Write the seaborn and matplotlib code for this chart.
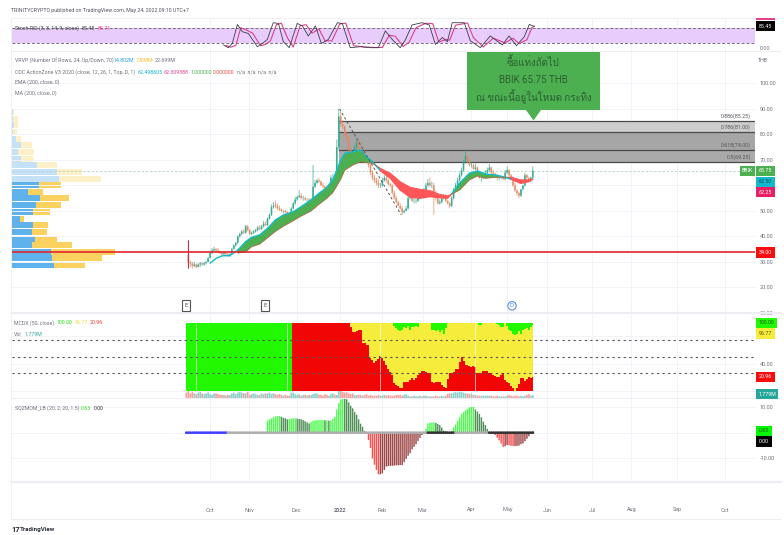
import numpy as np
import matplotlib
matplotlib.use('Agg')
import matplotlib.pyplot as plt
import matplotlib.font_manager as fm
from matplotlib.ft2font import FT2Font
from matplotlib.patches import Rectangle, Polygon, Circle
import seaborn as sns

# --- price bars (index = bar number, first slot empty) ---
nan = float('nan')
closes = [nan,
    30,29.5,28.5,29,28,29,29.5,29,29.5,30, 31.5,33.5,34.5,35,34.5,34,33.5,33,33.5,33,
    32.5,33,35,36.5,37.5,40,41,42,41.5,44, 42.5,41,41.5,42,42.5,43.5,43,44,45,44.5,
    47,48.5,51.5,52,52,51,50.5,50,50,49.5, 49,48.5,51,53,54.5,55.5,56,55,55,54.5,
    54.5,54,54.5,59.5,61,62,61.5,60,59.5,59, 58.5,60,63,63,62.5,75,87,84,83,80,
    78,74,72,71,75,77,74,72,73,71, 70,68,65,63,62,61,60,60,62,63,
    62,60.5,60,57,55,53.5,52,51,49.5,50, 51,55,56,54,54,54,55,56,55.5,58,
    60,61,60,60,57,55,53,53.5,55,55.5, 54,53,52,55,58,60,62,64,66,69,
    71.5,70,68,68,66.5,67,65,63,63,64, 65,66,67,65,64.5,64,63,63,63,62.5,
    65,66,64,63,60,58,57,56,58.5,60, 64,63,62,63,65.75]
opens = [nan,
    33,30,29.5,28.5,29,28,29,29.5,29,29.5, 30,31.5,33.5,34.5,35,34.5,34,33.5,33,33.5,
    33,32.5,33,35,36.5,37.5,40,41,42,41.5, 44,42.5,41,41.5,42,42.5,43.5,43,44,45,
    44.5,47,48.5,51.5,52.5,52,51,50.5,50,50, 49.5,49,48.5,51,53,54.5,55.5,56,55,55,
    54.5,54.5,54,54.5,59.5,61,62,61.5,60,59.5, 59,58.5,60,63,63,63,75,87,84,83,
    80,78,74,72,71,75,77,74,72,73, 71,70,68,65,63,62,61,60,60,62,
    63,62,60.5,60,57,55,53.5,52,51,49.5, 50,51,55,56,54,54,54,55,56,55.5,
    58,60,61,60,60,57,55,53,53.5,55, 55.5,54,53,52,55,58,60,62,64,66,
    69,71.5,70,68,68,66.5,67,65,63,63, 64,65,66,67,65,64.5,64,63,63,63,
    62.5,65,66,64,63,60,58,57,56,58.5, 60,64,63,62,63]
highs = [nan,
    38.5,30.5,30,30,29.5,29.5,30,30,30,30.5, 32,34.5,35.5,36,35.5,35.5,34.5,34,34,34,
    33.5,33.5,35.5,37,38,40.5,41.5,42.5,43,44.5, 44.5,43,42,42.5,43,44,44.5,44.5,46,46,
    47.5,49,52.5,53.5,54,53,52,51,50.5,50.5, 50,49.5,51.5,53.5,55.5,56,58,57,56,55.5,
    55,55,55,68,62,62.5,63,62,61,60, 60,60.5,64,64.5,64,78,90,89,85.5,83.5,
    81,79,75,73,76,78,78,75,74,74, 72,71,68.5,66,64,63,62.5,61,63,64,
    64,62.5,61,60.5,58,56,54,53,52,50.5, 52,56,57.5,56.5,55,55,56,57,57,59,
    61,62.5,63,61.5,61,58,56,54.5,55,56.5, 56.5,54.5,53.5,56,59,61,63,65,67,70,
    73.6,72,70.5,69,68.5,68.5,67.5,65.5,64,65, 66,67,68.5,67.5,66,65,64.5,64,64,63.5,
    66,67.5,66.5,64.5,63.5,61,58.5,57.5,58.5,60, 65,64.5,63.5,63.5,67.5]
lows = [nan,
    27.5,28,27.5,28,27.5,28,28,28.5,28.5,29, 30,31.5,33,34,34,33.5,33,32.5,32.5,32.5,
    32,32,33,35,36,37,39.5,40.5,41,41, 42,40.5,40.5,41,41.5,42,42.5,42.5,43.5,44,
    44,46.5,48,51,51,50.5,50,49.5,49,49, 48.5,48,48,50.5,52.5,54,55,54.5,54,54,
    53.5,53,53.5,54,59,60.5,61,60,59,58.5, 58,58,59.5,62,62,63,74,83,82,79,
    77,73,71,69,70,74,73,71,71,70, 69,67,64,62,61,60,59,59,59.5,61.5,
    61,60,59.5,56.5,54.5,53,52,50.5,48.5,49, 50,50.5,54.5,53.5,53,53,53.5,54.5,55,55,
    57.5,59.5,59.5,59,48.5,54,52.5,52.5,53,54.5, 53.5,52.5,51,51.5,54.5,57.5,59.5,61.5,63.5,65.5,
    68.5,69,67.5,67,66,66,64.5,62.5,61.5,62.5, 63.5,64.5,65.5,64.5,64,63,62,62,62.5,62,
    62,64.5,63.5,62.5,59.5,57.5,56,55,55.5,58, 59.5,62.5,61.5,61.5,62.5]

# --- CDC action zone ---
fast_x = [12,15,18,22,26,30,33,37,41,45,49,54,58,63,67,71,74,78,80,84,88,91,94,98,103,108,113,118,123,128,132,134,138,143,147,151,156,161,164,169,173,175]
fast_vals = [29.5,31.4,32.4,32.5,34.7,38,39.7,40.6,43.2,46.5,48.4,49.7,51.7,54.3,56.9,59.3,62.2,70,72.6,73.2,73.9,71.3,69.3,65.8,62.8,58.2,55.4,55,55.6,55.2,55,56.7,60.9,64.8,65.7,64.5,64.1,63.2,62.4,60.8,61.5,62.5]
slow_vals = [33.5,34,36,37,39.5,42,44,46.2,48,50,52.6,55,57.2,62.5,66,68,69.3,69,68.7,66.7,64.8,61.5,59.3,58.5,58,56.5,55.9,56.6,58.2,62.2,63.7,62.8,63.2,63.2,63.2,62.2,62.2,62.3]

# --- VRVP rows ---
row_price = [88.8,86.2,83.6,81.0,78.4,75.8,73.1,70.5,67.9,65.3,62.7,60.1,57.5,54.9,52.3,49.7,47.0,44.4,41.8,39.2,36.6,34.0,31.4,28.8]
row_up = [6,4,8,6,14,28,19,28,77,138,142,83,49,87,74,65,26,66,62,70,62,119,123,128]
row_down = [3,17,13,10,14,35,48,39,60,75,127,66,47,86,75,50,12,43,45,67,120,192,148,94]

# --- Fibonacci levels ---
fib_levels = [85.25,81.0,74.0,69.25]
fib_names = ['0.886(85.25)','0.786(81.00)','0.618(74.00)','0.5(69.25)']
fib_fills = ['#cdcdcd','#a6a6a6','#aaaaaa']
trend_x = [77.4,108.5]
trend_y = [90,48.5]
last_price = 65.75
support = 34

# --- Stoch RSI ---
k_x = [18.7,21.2,23.2,25.8,28.3,31.3,35.9,38.4,40.9,43.9,46.5,49,52,56,58.6,61.6,65.2,68.2,71.7,76.3,78.8,82.8,87.9,92.9,97,100.5,104,108,110.6,114,119,122.7,125.8,129.3,131.8,134.3,140.4,143.4,148.5,153.5,159.6,163,166.7,170.7,173.2,175.8]
k_vals = [11,0,17,93,64,57,4,17,33,100,97,24,0,97,87,47,87,17,33,100,96,0,4,0,0,67,33,0,31,91,100,91,13,41,24,100,100,28,0,47,11,47,8,44,93,85]
d_x = [20,22.5,25,27.5,30,33.5,37.5,40,42.5,45.5,48,51,54,57.5,60.5,63.5,67,70,73.5,77.5,80.5,84.5,90,95,99,102.5,105.5,109.5,112.5,116,121,124.5,127.5,131,133,136,142,145,150,155,161,165,168,172,174.5,175.8]
d_vals = [9,2,9,80,72,58,8,13,28,92,98,40,3,88,92,58,75,28,27,95,98,8,3,1,1,50,46,5,22,80,98,96,22,33,30,90,99,40,3,38,19,38,16,32,80,86.7]
stoch_levels = [80,20]

# --- MCDX ---
mcdx_red = [0,0,0,0,0,0,0,0,0,0, 0,0,0,0,0,0,0,0,0,0, 0,0,0,0,0,0,0,0,0,0, 0,0,0,0,0,0,0,0,0,0,
    0,0,0,0,0,0,0,0,0,0, 0,0,0,0,100,100,100,100,100,100, 100,100,100,100,100,100,100,100,100,100,
    100,100,100,100,100,100,100,100,100,100, 100,100,100,94,86,86,88,89,89,70,
    70,67,67,48,45,41,44,47,52,48, 44,38,33,28,24,12,9,7,5,5, 14,13,14,17,19,17,19,23,27,30,
    30,28,27,26,14,12,13,14,14,9, 6,5,18,26,27,28,33,33,42,50, 44,38,38,37,36,37,36,26,26,26,
    29,30,29,27,26,24,22,21,21,24, 26,17,13,12,8,5,1,5,10,19, 19,15,18,21,20,20.96]
mcdx_yellow = [0,0,0,0,0,0,0,0,0,0, 0,0,0,0,0,0,0,0,0,0,
    0,0,0,0,0,0,0,0,0,0, 0,0,0,0,0,0,0,0,0,0,
    0,0,0,0,0,0,0,0,0,0, 0,0,0,0,100,100,100,100,100,100,
    100,100,100,100,100,100,100,100,100,100, 100,100,100,100,100,100,100,100,100,100,
    100,100,100,100,100,100,100,100,100,100, 100,100,100,100,100,100,100,100,100,100,
    100,100,100,100,100,95,92,90,88,90, 94,92,95,90,94,93,95,94,100,100,
    100,100,100,100,89,90,88,90,86,90, 84,92,100,100,100,100,100,100,100,100,
    100,100,100,100,100,100,100,100,96,96, 100,100,100,100,100,100,100,98,96,94,
    93,100,95,90,88,84,82,84,88,84, 90,91,92,89,93,96.77]
mcdx_gaps = [5,51,98,146]
mcdx_levels = [75,50,26]
volumes = [3.5,4.5,3,4,3,2.5,3.5,4,3,2.5,3,3.5,2.5,2,3,3,2.5,2,2,2,
    1.5,2,2,3,3.5,2.5,3.5,4,3.5,3,3,4,2,2.5,3,2.5,2,2,3,2.5,
    3,3,3.5,2.5,3,2.5,2,2.5,2,1.5,2,1.5,1.5,3.5,3.5,2.5,2,2.5,1.5,2,
    2,1.5,2,2,2.5,3,3,2,2,1.5,2.5,2,1.5,2.5,3,2,2,4.5,4.5,4,
    3.5,3.5,3,2.5,3,2,2,2,2,1.5,2,2.5,1.5,2,1.5,1.5,1.5,2,1.5,1.5,
    2,1.5,2,1.5,1.5,1.5,2,2,2,1.5,2,2.5,1.5,1,1,1.5,1,1,1.5,1,
    1.5,1.5,1,1,1,1,1.5,1,1,1.5,1,1.5,2.5,3,3,3.5,4,3.5,4,4,
    3.5,3,3,2.5,3,2,2,1.5,1.5,1.5,1.5,1.5,1.5,1.5,1.5,1,1,1.5,1,1,
    1,1,1.5,2,1.5,1,1.5,1.5,1,1.5,1,1.5,2,2.5,1.5,1.78]

# --- squeeze momentum, from bar 41 ---
squeeze_vals = [4.7,5.2,5.6,6.0,6.3,6.5,6.5,6.2,5.8,5.6, 5.2,5.3,5.5,5.6,5.6,5.5,5.3,5.2,4.9,4.5,
    4.0,3.6,4.2,4.7,4.8,4.9,4.9,4.9,4.9,4.8, 4.8,4.7,4.7,5.4,6.2,9,11.5,13,13.3,13.2,
    13,11.8,10.5,9.5,8,7,5.2,3.5,2.3,0.7, -0.3,-2.9,-6,-10,-12.5,-14.5,-16.2,-16.2,-15.8,-14.5,
    -13.2,-13,-12.9,-12.9,-12.8,-12.7,-12.7,-12.6,-12.6,-11.5, -10.2,-9,-8,-6.5,-5.5,-4.5,-3.2,-2,-0.9,-0.1,
    1.5,3.6,3.9,4,4,3.8,3.4,3,2,0.8, 0.6,0.3,0.1,0.6,2,3.2,4.5,6,7.2,8,
    8.8,9.3,9.8,10,10,9,8.2,7.3,6,4.3, 3,1.5,0.4,0,-0.5,-0.9,-2,-3,-4.2,-5.5,
    -5.3,-4.8,-4.9,-5.1,-5.2,-5.2,-5.2,-5,-4.5,-4.2, -3.3,-2.4,-1.4,-0.3,0.63]
squeeze_first = 41

# --- axis labels ---
time_pos = [11.7,31.9,55.7,77.4,98.6,119.3,143.8,162.2,182.4,205.1,224.8,248,271.8]
time_labels = ['Oct','Nov','Dec','2022','Feb','Mar','Apr','May','Jun','Jul','Aug','Sep','Oct']
price_ticks = [10,20,30,40,50,60,70,80,90,100]

GRID = '#f1f3f8'
GRAY = '#6f727c'
UP = '#2fa68f'
DOWN = '#e5865c'
SMALL = 3.8

sns.set_theme(style='white')
thai = [f.name for f in fm.fontManager.ttflist if 0x0E0B in FT2Font(f.fname).get_charmap()]
plt.rcParams['font.family'] = ['Roboto', 'DejaVu Sans'] + thai[:1]
plt.rcParams['font.size'] = SMALL

W, H = 784, 535
fig = plt.figure(figsize=(W / 100, H / 100), dpi=100, facecolor='white')

def pane(top, bottom, **kw):
    ax = fig.add_axes([11.5 / W, 1 - bottom / H, (755 - 11.5) / W, (bottom - top) / H], **kw)
    ax.set_xlim(-88.3, 287.2)
    ax.patch.set_visible(False)
    sns.despine(ax=ax, left=True, bottom=True, right=True, top=True)
    ax.set_xticks(time_pos)
    ax.set_xticklabels([])
    ax.yaxis.tick_right()
    ax.tick_params(length=0, pad=3.5, labelsize=SMALL + 0.2, labelcolor=GRAY)
    ax.grid(True, color=GRID, lw=0.7)
    ax.set_axisbelow(True)
    return ax

def yticks(ax, ticks, hidden=()):
    ax.set_yticks(ticks)
    ax.set_yticklabels(['' if t in hidden else '%.2f' % t for t in ticks])

# stoch rsi
ax_s = pane(18, 51)
ax_s.set_ylim(-13.2, 118.8)
yticks(ax_s, [0])
ax_s.grid(axis='y', visible=False)
ax_s.axhspan(stoch_levels[1], stoch_levels[0], color='#e8ccfb', lw=0, zorder=1)
for lv in stoch_levels:
    ax_s.axhline(lv, color='#77707f', lw=0.7, ls=(0, (3, 2)), zorder=2)
sns.lineplot(x=d_x, y=d_vals, ax=ax_s, color='#d8418f', lw=0.8, zorder=3)
sns.lineplot(x=k_x, y=k_vals, ax=ax_s, color='#3d3d4a', lw=0.6, zorder=4)

# main pane
ax_v = pane(51, 313)
ax_v.set_ylim(10, 112.7)
ax_v.set_xlim(0, 744 * 3)
ax_v.set_xticks([])
ax_v.set_yticks([])
ax_v.grid(False)
ax_v.set_zorder(1)
for i, p in enumerate(row_price):
    if i < 11:
        c_up, c_dn = '#c4e1f7', '#fdf0c7'
    else:
        c_up, c_dn = '#5fb2ec', '#fbd25f'
    ax_v.barh(p, row_up[i], height=2.35, color=c_up, lw=0)
    ax_v.barh(p, row_down[i], left=row_up[i], height=2.35, color=c_dn, lw=0)

ax = pane(51, 313)
ax.set_zorder(2)
ax.set_ylim(10, 112.7)
yticks(ax, price_ticks)
x_right = ax.get_xlim()[1]
for i in range(3):
    ax.fill_between([77, x_right], fib_levels[i], fib_levels[i + 1], color=fib_fills[i], lw=0, zorder=1)
for lv, name in zip(fib_levels, fib_names):
    ax.plot([77, x_right], [lv, lv], color='#4a4a4a', lw=0.9, zorder=2)
    ax.text(0.9945, lv + 0.6, name, color='#55565e', ha='right', va='bottom', fontsize=SMALL,
            transform=ax.get_yaxis_transform(), zorder=6)
ax.axhline(last_price, color='#b7d2c8', lw=0.6, ls=(0, (3, 2)), zorder=2)

bars = np.arange(len(closes))
o, c, h, l = map(np.array, (opens, closes, highs, lows))
colors = [UP if c[i] >= o[i] else DOWN for i in bars]
ax.vlines(bars, l, h, colors=colors, lw=0.6, alpha=0.8, zorder=3, snap=False)
candles = ax.bar(bars, np.abs(c - o), bottom=np.minimum(o, c), width=0.85, color=colors, lw=0, alpha=0.85, zorder=3)
for r in candles:
    r.set_snap(False)
ax.vlines([1], [27.5], [38.5], colors='#b03a48', lw=0.8, zorder=3)

fx = np.array(fast_x[4:], dtype=float)
fv = np.array(fast_vals[4:])
sv = np.array(slow_vals)
ax.fill_between(fx, fv, sv, where=fv >= sv, interpolate=True, color='#4caf50', lw=0, zorder=4)
ax.fill_between(fx, fv, sv, where=fv <= sv, interpolate=True, color='#ff5659', lw=0, zorder=4)
sns.lineplot(x=fast_x[:5], y=fast_vals[:5], ax=ax, color='#10bccf', lw=1.0, zorder=5)
start = 0
for n in range(1, len(fx) + 1):
    if n == len(fx) or (fv[n] >= sv[n]) != (fv[start] >= sv[start]):
        seg = np.arange(start, min(n + 1, len(fx)))
        rising = fv[start] >= sv[start]
        sns.lineplot(x=fx[seg], y=fv[seg], ax=ax, color='#10bccf' if rising else '#ff5659', lw=1.0, zorder=5)
        sns.lineplot(x=fx[seg], y=sv[seg], ax=ax, color='#a3724c' if rising else '#ff5659', lw=0.7, zorder=5)
        start = n
sns.lineplot(x=trend_x, y=trend_y, ax=ax, color='#555555', lw=0.7, ls=(0, (2.5, 2.5)), zorder=6)
ax.axhline(support, color='#e0242c', lw=1.2, zorder=6)

# mcdx
ax_m = pane(313, 398)
ax_m.set_ylim(-9.8, 114.1)
yticks(ax_m, [0, 40, 80], hidden=(0, 80))
mx = np.arange(len(mcdx_red))
ax_m.fill_between(mx, 0, 100, step='mid', color='#22f900', lw=0, zorder=2)
ax_m.fill_between(mx, 0, mcdx_yellow, step='mid', color='#f6ec3b', lw=0, zorder=2)
ax_m.fill_between(mx, 0, mcdx_red, step='mid', color='#f20505', lw=0, zorder=2)
ax_m.vlines(mcdx_gaps, 0, 100, color='white', lw=0.6, alpha=0.75, zorder=3)
for lv in mcdx_levels:
    ax_m.axhline(lv, color='#555555', lw=0.8, ls=(0, (2, 3)), xmax=1, zorder=4)

ax_vol = pane(313, 398)
ax_vol.set_ylim(0, 55)
ax_vol.set_xticks([])
ax_vol.set_yticks([])
ax_vol.grid(False)
vol_bars = ax_vol.bar(bars, volumes, width=0.85, lw=0,
                      color=['#8fd0ca' if cl == UP else '#f8a09b' for cl in colors])
for r in vol_bars:
    r.set_snap(False)

# squeeze
ax_q = pane(398, 482)
ax_q.set_ylim(-19.2, 13.5)
yticks(ax_q, [-10, 0, 10], hidden=(0,))
qx = np.arange(squeeze_first, squeeze_first + len(squeeze_vals))
qv = np.array(squeeze_vals)
prev = np.r_[qv[0], qv[:-1]]
qc = ['#4dfb4d' if (v > 0 and v >= p) else '#4f8f55' if v > 0
      else '#ff4d4d' if v < p else '#9c4545' for v, p in zip(qv, prev)]
sq_bars = ax_q.bar(qx, qv, width=0.72, color=qc, lw=0, zorder=2)
for r in sq_bars:
    r.set_snap(False)
state = []
for i in range(len(closes)):
    if i < 21:
        state.append('on')
    elif 122 <= i < 136 or 153 <= i:
        state.append('dark')
    else:
        state.append('off')
sns.scatterplot(x=np.arange(len(closes)), y=np.zeros(len(closes)), hue=state, ax=ax_q, legend=False, s=4,
                palette={'on': '#3f3fff', 'off': '#adadad', 'dark': '#333333'}, lw=0, zorder=3)

# overlay in pixels: separators, legends, tags, callout
ov = fig.add_axes([0, 0, 1, 1], zorder=10)
ov.set_xlim(0, W)
ov.set_ylim(H, 0)
ov.axis('off')
for y, lw in [(18, 0.6), (51, 0.7), (313, 1.6), (398, 0.7), (482, 1.6), (519, 0.7)]:
    ov.plot([11.5, 781], [y, y], color='#eceef3', lw=lw, zorder=0)
ov.plot([11.5, 11.5], [18, 519], color='#eceef3', lw=0.6, zorder=0)

def txt(x, y, s, color=GRAY, **kw):
    kw.setdefault('fontsize', SMALL)
    kw.setdefault('va', 'center')
    ov.text(x, y, s, color=color, **kw)

for pos, lab in zip(time_pos, time_labels):
    txt(186.4 + 1.98 * pos, 510, lab, ha='center', fontsize=SMALL + 0.2, fontweight='bold' if lab == '2022' else 'normal')

txt(11, 10.5, 'TRINITYCRYPTO published on TradingView.com, May 24, 2022 09:10 UTC+7', color='#53555e', fontsize=3.75)
txt(15, 28, 'Stoch RSI (3, 3, 14, 9, close)', color='#3b3d46')
txt(82, 28, '85.45', color='#3b3d46')
txt(98, 28, '86.71', color='#e6418f')
txt(15, 61, 'VRVP (Number Of Rows, 24, Up/Down, 70)')
txt(114, 61, '14.802M', color='#2c9fe0')
txt(136, 61, '7.898M', color='#f5b82e')
txt(155, 61, '22.699M')
txt(15, 72, 'CDC ActionZone V3 2020 (close, 12, 26, 1, Top, D, 1)')
txt(138, 72, '62.498605', color='#10b6c9')
txt(164, 72, '62.309388', color='#e6418f')
txt(191, 72, '1.000000', color='#4caf50')
txt(213, 72, '0.000000', color='#f0504a')
txt(237, 72, 'n/a  n/a  n/a  n/a')
txt(15, 82.5, 'EMA (200, close, 0)')
txt(15, 93, 'MA (200, close, 0)')
txt(14, 323, 'MCDX (50, close)')
txt(57, 323, '100.00', color='#2fe01a')
txt(75, 323, '96.77', color='#e9dd38')
txt(90, 323, '20.96', color='#f23a3a')
txt(14, 334, 'Vol')
txt(25, 334, '1.779M', color='#2fa89c')
txt(15, 408, 'SQZMOM_LB (20, 2, 20, 1.5)')
txt(81, 408, '0.63', color='#2fe01a')
txt(94, 408, '0.00', color='#333333')
txt(758, 60, 'THB')

def tag(y, s, bg, fg='white', x0=755.7, x1=775):
    ov.add_patch(Rectangle((x0, y - 5.2), x1 - x0, 10.4, color=bg, lw=0, zorder=5))
    ov.text((x0 + x1) / 2, y, s, color=fg, ha='center', va='center', fontsize=SMALL, zorder=6)

ov.add_patch(Rectangle((755.7, 18.4), 19.5, 2, color='#e6418f', lw=0))
tag(26, '85.45', '#000000')
tag(171, 'BBIK', '#4caf50', x0=740.5, x1=755)
tag(171, '65.75', '#4caf50')
tag(181.7, '62.50', '#12b9cd', fg='#1d4a50')
tag(192, '62.25', '#e91e63')
tag(252.5, '34.00', '#f70d0d')
tag(323, '100.00', '#22f900', fg='#1f5a10', x1=777)
tag(333.5, '96.77', '#f6ec3b', fg='#55551a')
tag(377, '20.96', '#f70d0d')
tag(394, '1.779M', '#26a69a', x1=778.5)
tag(431, '0.63', '#00f800', fg='#1f5a10', x1=772)
tag(441.6, '0.00', '#000000', x1=772)

# callout
ov.add_patch(Rectangle((467.5, 52), 132.5, 58, color='#4caf50', lw=0, zorder=3))
ov.add_patch(Polygon([[526, 110], [541, 110], [533.5, 120.5]], color='#4caf50', lw=0, zorder=3))
for y, s in [(62, 'ซื้อแท่งถัดไป'), (80, 'BBIK 65.75 THB'), (97, 'ณ ขณะนี้อยู่ในโหมด กระทิง')]:
    ov.text(533.5, y, s, color='#2e5f34', ha='center', va='center', fontsize=7, zorder=4)

# event markers
for x in (186, 265):
    ov.add_patch(Rectangle((x - 3.7, 300.3), 7.4, 11, fc='white', ec='#555555', lw=0.8, zorder=3))
    ov.text(x, 305.8, 'E', color='#555555', ha='center', va='center', fontsize=4.6, zorder=4)
ov.add_patch(Circle((512, 305.8), 4.2, fc='white', ec='#5b8def', lw=0.8, zorder=3))
ov.text(512, 305.8, 'D', color='#5b8def', ha='center', va='center', fontsize=4.6, zorder=4)

# logo
txt(11.5, 529, '17', color='#2a2e39', fontsize=5.5, fontweight='bold')
txt(19.5, 529, 'TradingView', color='#2a2e39', fontsize=4.4, fontweight='bold')

fig.savefig('out.png', dpi=100, facecolor='white')
